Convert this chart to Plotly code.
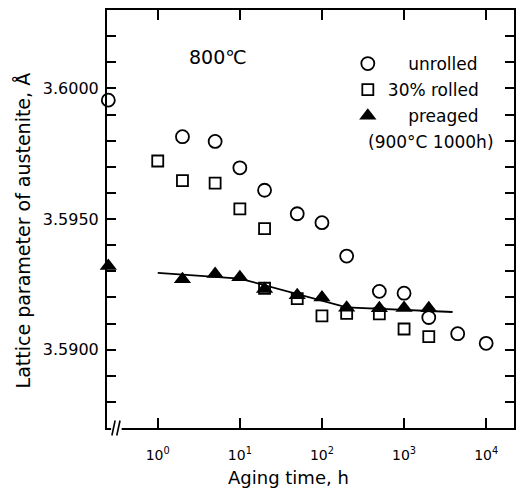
import plotly.graph_objects as go

# ---- data ----
INITIAL_X = 0.25  # plotting position used for the as-received (time 0) state at the axis break

unrolled_t = [INITIAL_X, 2, 5, 10, 20, 50, 100, 200, 500, 1000, 2000, 4500, 10000]
unrolled_a = [3.59955, 3.59815, 3.59797, 3.59696, 3.59610, 3.59520, 3.59486,
              3.59358, 3.59223, 3.59216, 3.59123, 3.59061, 3.59024]

rolled_t = [1, 2, 5, 10, 20, 20, 50, 100, 200, 500, 1000, 2000]
rolled_a = [3.59722, 3.59647, 3.59637, 3.59539, 3.59463, 3.59235, 3.59195,
            3.59129, 3.59139, 3.59137, 3.59079, 3.59050]

preaged_t = [INITIAL_X, 2, 5, 10, 20, 50, 100, 200, 500, 1000, 2000]
preaged_a = [3.59320, 3.59269, 3.59289, 3.59277, 3.59232, 3.59208, 3.59200,
             3.59160, 3.59158, 3.59159, 3.59158]

fit_t = [1, 10, 200, 3900]
fit_a = [3.59294, 3.59272, 3.59162, 3.59144]

x_tickvals = [1, 10, 100, 1000, 10000]
x_ticktext = ["10<sup>0</sup>", "10<sup>1</sup>", "10<sup>2</sup>", "10<sup>3</sup>", "10<sup>4</sup>"]
y_tickvals = [3.5900, 3.5950, 3.6000]

SP = "\u2002\u2002\u2009"  # indent so the short legend labels end near the long one

FONT = "DejaVu Sans"
W, H = 523, 493
L, R, T, B = 107, 7, 10, 65
PW, PH = W - L - R, H - T - B


def px(x):
    return (x - L) / PW


def py(y):
    return 1 - (y - T) / PH


fig = go.Figure()

fig.add_trace(go.Scatter(
    x=fit_t, y=fit_a, mode="lines", line=dict(color="black", width=1.8),
    showlegend=False, hoverinfo="skip"))

fig.add_trace(go.Scatter(
    x=unrolled_t, y=unrolled_a, mode="markers", name=SP + "unrolled", legendgroup="a",
    marker=dict(symbol="circle-open", size=13, color="black", line=dict(width=1.8)),
    cliponaxis=False))

fig.add_trace(go.Scatter(
    x=rolled_t, y=rolled_a, mode="markers", name="30% rolled", legendgroup="b",
    marker=dict(symbol="square-open", size=11, color="black", line=dict(width=1.8)),
    cliponaxis=False))

fig.add_trace(go.Scatter(
    x=preaged_t, y=preaged_a, mode="markers", name=SP + "preaged", legendgroup="c",
    marker=dict(symbol="triangle-up", size=15, color="black"),
    cliponaxis=False))

fig.update_xaxes(
    type="log", range=[-0.618, 4.339],
    tickvals=x_tickvals, ticktext=x_ticktext,
    ticks="inside", ticklen=10, tickwidth=1.8, tickcolor="black",
    showline=True, linecolor="black", linewidth=2, mirror="ticks",
    showgrid=False, zeroline=False,
    tickfont=dict(family=FONT, size=14, color="black"),
    ticklabelstandoff=13,
)

fig.update_yaxes(
    range=[3.5870, 3.6030],
    tickvals=y_tickvals, tickformat=".4f",
    ticks="inside", ticklen=9, tickwidth=1.8, tickcolor="black",
    minor=dict(dtick=0.001, ticks="inside", ticklen=9, tickwidth=1.8, tickcolor="black", showgrid=False),
    showline=True, linecolor="black", linewidth=2, mirror="ticks",
    showgrid=False, zeroline=False,
    tickfont=dict(family=FONT, size=16, color="black"),
    ticklabelstandoff=3,
)

# axis break mark on the time axis
fig.add_shape(type="rect", xref="paper", yref="paper", x0=0.010, x1=0.036, y0=-0.006, y1=0.006,
              fillcolor="white", line=dict(width=0), layer="above")
for x0 in (0.012, 0.024):
    fig.add_shape(type="line", xref="paper", yref="paper", x0=x0, x1=x0 + 0.008, y0=-0.018, y1=0.018,
                  line=dict(color="black", width=1.6), layer="above")

fig.add_annotation(text="800℃", xref="paper", yref="paper", x=px(219), y=py(57),
                   xanchor="center", yanchor="middle",
                   showarrow=False, font=dict(family=FONT, size=19, color="black"))
fig.add_annotation(text="(900°C 1000h)", xref="paper", yref="paper", x=px(433), y=py(142),
                   xanchor="center", yanchor="middle",
                   showarrow=False, font=dict(family=FONT, size=17, color="black"))
fig.add_annotation(text="Lattice parameter of austenite, Å", xref="paper", yref="paper",
                   x=px(23), y=py(230), textangle=-90, xanchor="center", yanchor="middle",
                   showarrow=False, font=dict(family=FONT, size=19, color="black"))
fig.add_annotation(text="Aging time, h", xref="paper", yref="paper",
                   x=px(289), y=py(477), xanchor="center", yanchor="middle",
                   showarrow=False, font=dict(family=FONT, size=18, color="black"))

fig.update_layout(
    width=W, height=H, margin=dict(l=L, r=R, t=T, b=B),
    paper_bgcolor="white", plot_bgcolor="white",
    font=dict(family=FONT, color="black"),
    legend=dict(x=px(349), y=py(46), xanchor="left", yanchor="top",
                font=dict(family=FONT, size=17, color="black"), bgcolor="rgba(0,0,0,0)",
                tracegroupgap=1, valign="top", itemwidth=30),
)

fig.write_html("out.html")
